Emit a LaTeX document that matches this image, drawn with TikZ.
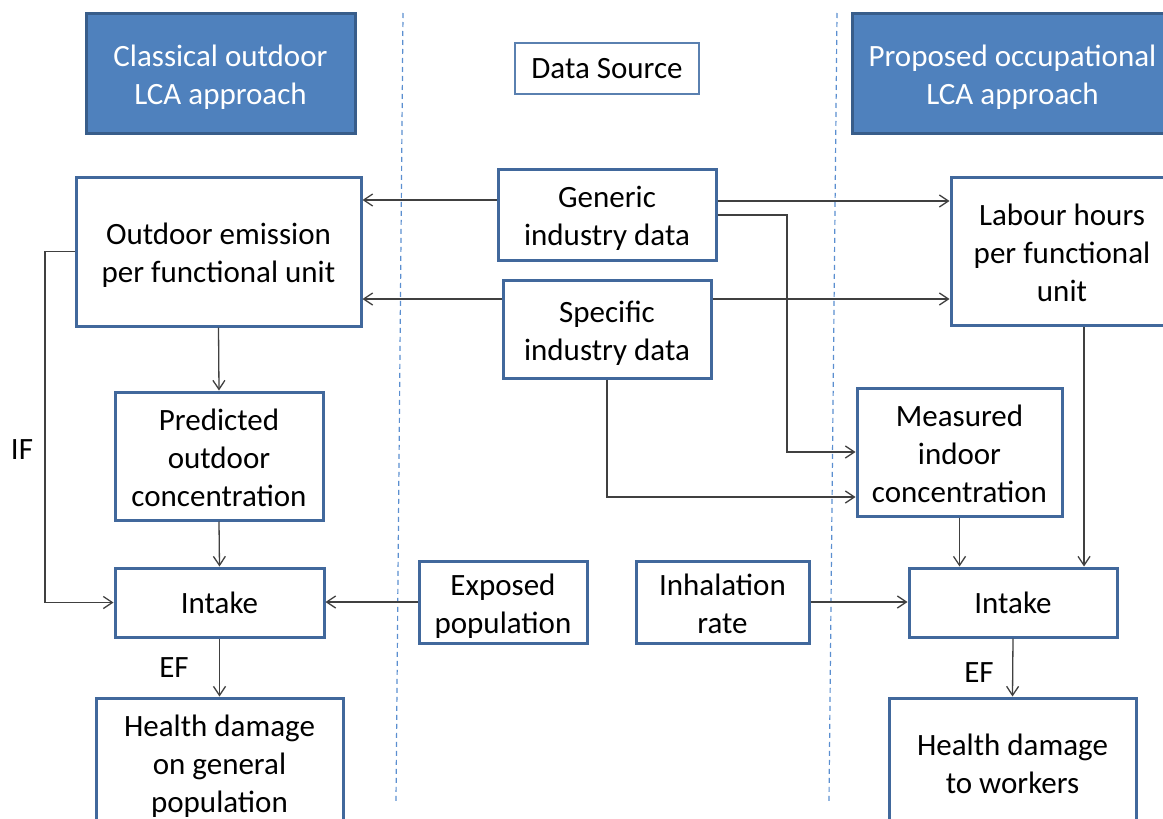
\documentclass[tikz,border=0pt]{standalone}
\usepackage{fontspec}
\setmainfont{Carlito}
\usetikzlibrary{arrows.meta}
\definecolor{hdrfill}{HTML}{4F81BD}
\definecolor{hdrline}{HTML}{385D8A}
\definecolor{boxline}{HTML}{41689C}
\definecolor{srcline}{HTML}{5A80B0}
\definecolor{wire}{HTML}{404040}
\definecolor{sep}{HTML}{5B8FD0}
% invisible struts giving every multi-line label the same line box
\newcommand{\upstrut}{\rule{0pt}{32pt}}
\newcommand{\dnstrut}{\rule[-8pt]{0pt}{8pt}}
\begin{document}
\begin{tikzpicture}[x=1pt,y=-1pt,
  every node/.style={font=\fontsize{31}{38}\selectfont, align=center, inner sep=0pt},
  header/.style={draw=hdrline, fill=hdrfill, line width=3pt, text=white},
  flowbox/.style={draw=boxline, line width=3pt, fill=white},
  srcbox/.style={draw=srcline, line width=1.3pt, fill=white},
  link/.style={draw=wire, line width=1.3pt, -{Straight Barb[length=9pt,width=12pt,line width=1.3pt]}},
  divider/.style={draw=sep, line width=1.2pt, dash pattern=on 5pt off 4pt},
  tag/.style={text=black}]
\useasboundingbox (0,0) rectangle (1163,819);
\clip (0,0) rectangle (1163,819);
\fill[white] (0,0) rectangle (1163,819);

% column separators
\draw[divider] (403,13) -- (396,801);
\draw[divider] (837,13) -- (829,801);

% headings
\node[header, minimum width=269pt, minimum height=120pt] (hdrL) at (220.5,73) {\upstrut Classical outdoor\\LCA approach\dnstrut};
\node[header, minimum width=321pt, minimum height=120pt] (hdrR) at (1012.5,73) {\upstrut Proposed occupational\\LCA approach\dnstrut};
\node[srcbox, minimum width=184pt, minimum height=51pt] (src) at (607,68.5) {Data Source};

% data sources
\node[flowbox, minimum width=218pt, minimum height=91pt] (gen) at (607,214.5) {\upstrut Generic\\industry data\dnstrut};
\node[flowbox, minimum width=208pt, minimum height=98pt] (spec) at (607,329) {\upstrut Specific\\industry data\dnstrut};

% classical chain
\node[flowbox, minimum width=285pt, minimum height=149pt] (emis) at (218.5,251.5) {\upstrut Outdoor emission\\per functional unit\dnstrut};
\node[flowbox, minimum width=208pt, minimum height=128pt] (pred) at (219,456) {\upstrut Predicted\\outdoor\\concentration\dnstrut};
\node[flowbox, minimum width=209pt, minimum height=69pt] (intL) at (219.5,602.5) {Intake};
\node[flowbox, minimum width=247pt, minimum height=128pt] (hltL) at (219.5,762) {\upstrut Health damage\\on general\\population\dnstrut};
\node[flowbox, minimum width=168pt, minimum height=82pt] (expo) at (503,602) {\upstrut Exposed\\population\dnstrut};

% occupational chain
\node[flowbox, minimum width=222pt, minimum height=148pt] (lab) at (1062,251) {\upstrut Labour hours\\per functional\\unit\dnstrut};
\node[flowbox, minimum width=205pt, minimum height=128pt] (meas) at (959.5,452) {\upstrut Measured\\indoor\\concentration\dnstrut};
\node[flowbox, minimum width=173pt, minimum height=82pt] (inh) at (722.5,602) {\upstrut Inhalation\\rate\dnstrut};
\node[flowbox, minimum width=208pt, minimum height=69pt] (intR) at (1013,602.5) {Intake};
\node[flowbox, minimum width=247pt, minimum height=128pt] (hltR) at (1012.5,762) {\upstrut Health damage\\to workers\dnstrut};

% routing levels
\coordinate (rowgen) at (0,200);
\coordinate (rowgenR) at (0,201);
\coordinate (rowspec) at (0,299);
\coordinate (rowgenlow) at (0,215);
\coordinate (jogx) at (787,0);
\coordinate (rowspeclow) at (0,497);
\coordinate (ifx) at (45,0);
\coordinate (labx) at (1084,0);

% connectors
\draw[link] (gen.west |- rowgen) -- (emis.east |- rowgen);
\draw[link] (spec.west |- rowspec) -- (emis.east |- rowspec);
\draw[link] (gen.east |- rowgenR) -- (lab.west |- rowgenR);
\draw[link] (spec.east |- rowspec) -- (lab.west |- rowspec);
\draw[link] (gen.east |- rowgenlow) -- (jogx |- rowgenlow) -- (jogx |- meas.west) -- (meas.west);
\draw[link] (spec.south) -- (spec.south |- rowspeclow) -- (meas.west |- rowspeclow);

\draw[link] (emis.south) -- (pred.north);
\draw[link] (pred.south) -- (intL.north);
\draw[link] (emis.west) -- (emis.west -| ifx) -- (ifx |- intL.west) -- (intL.west);
\draw[link] (expo.west) -- (intL.east |- expo.west);
\draw[link] (intL.south) -- (hltL.north);

\draw[link] (inh.east) -- (intR.west |- inh.east);
\draw[link] (labx |- lab.south) -- (labx |- intR.north);
\draw[link] (meas.south) -- (meas.south |- intR.north);
\draw[link] (intR.south) -- (hltR.north);

% factor labels
\node[tag] (lblIF) at (22,450) {IF};
\node[tag] (lblEFL) at (174,668) {EF};
\node[tag] (lblEFR) at (979,673) {EF};
\end{tikzpicture}
\end{document}
